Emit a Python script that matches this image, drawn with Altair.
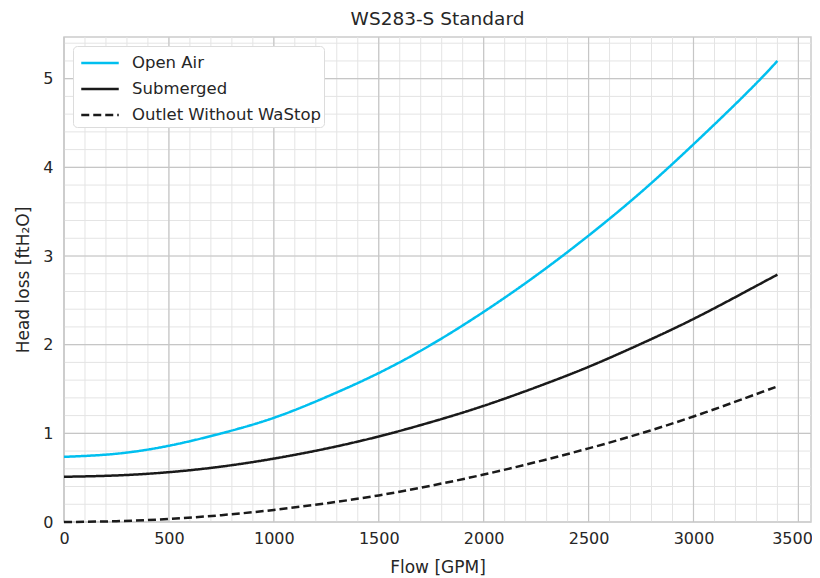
import altair as alt
import pandas as pd

# ---- data ----
series_names = ["Open Air", "Submerged", "Outlet Without WaStop"]
flow = [0, 250, 500, 750, 1000, 1250, 1500, 1750, 2000, 2250, 2500, 2750, 3000, 3250, 3400]
open_air = [0.735, 0.77, 0.86, 1.0, 1.175, 1.41, 1.68, 2.0, 2.37, 2.78, 3.23, 3.72, 4.26, 4.83, 5.2]
submerged = [0.51, 0.525, 0.562, 0.625, 0.715, 0.828, 0.965, 1.127, 1.31, 1.52, 1.75, 2.01, 2.29, 2.6, 2.79]
outlet = [0.0, 0.009, 0.034, 0.077, 0.136, 0.211, 0.30, 0.41, 0.535, 0.676, 0.83, 1.0, 1.19, 1.4, 1.53]

x_major = [0, 500, 1000, 1500, 2000, 2500, 3000, 3500]
x_minor = list(range(100, 3600, 100))
y_major = [0, 1, 2, 3, 4, 5]
y_minor = [round(0.2 * i, 1) for i in range(0, 28)]

rows = []
for name, vals in zip(series_names, [open_air, submerged, outlet]):
    for f, v in zip(flow, vals):
        rows.append({"series": name, "flow": f, "head": v})
df = pd.DataFrame(rows)

FONT = "DejaVu Sans"
TXT = "#262626"

xscale = alt.Scale(domain=[0, 3560], nice=False, zero=False)
yscale = alt.Scale(domain=[0, 5.47], nice=False, zero=False)

xaxis = alt.Axis(values=x_major, title="Flow [GPM]", grid=False, ticks=False,
                 domain=False, labelPadding=8, titlePadding=13, format="d",
                 labelFlush=False, labelOverlap=False,
                 labelAlign={"condition": {"test": "datum.value >= 3500", "value": "right"}, "value": "center"},
                 labelOffset={"condition": {"test": "datum.value >= 3500", "value": 14}, "value": 0})
yaxis = alt.Axis(values=y_major, title="Head loss [ftH₂O]", grid=False, ticks=False,
                 domain=False, labelPadding=11, titlePadding=10, format="d",
                 labelFlush=False, labelOverlap=False)

minor_v = alt.Chart(pd.DataFrame({"v": x_minor})).mark_rule(color="#e4e4e4", strokeWidth=1).encode(
    x=alt.X("v:Q", scale=xscale, axis=xaxis))
minor_h = alt.Chart(pd.DataFrame({"v": y_minor})).mark_rule(color="#e4e4e4", strokeWidth=1).encode(
    y=alt.Y("v:Q", scale=yscale, axis=yaxis))
major_v = alt.Chart(pd.DataFrame({"v": x_major})).mark_rule(color="#c6c6c6", strokeWidth=1.2).encode(
    x=alt.X("v:Q", scale=xscale, axis=xaxis))
major_h = alt.Chart(pd.DataFrame({"v": y_major})).mark_rule(color="#c6c6c6", strokeWidth=1.2).encode(
    y=alt.Y("v:Q", scale=yscale, axis=yaxis))

legend = alt.Legend(
    title=None, orient="top-left", offset=9, padding=3,
    fillColor="white", strokeColor="#dcdcdc", cornerRadius=4,
    symbolType="M-1.5,0H1.5", symbolSize=625, symbolStrokeWidth=2.5,
    symbolOffset=10, labelOffset=18, labelFontSize=16.5, labelFont=FONT,
    labelColor=TXT, rowPadding=3, labelLimit=400,
)

lines = alt.Chart(df).mark_line(strokeWidth=2.5, interpolate="natural").encode(
    x=alt.X("flow:Q", scale=xscale, axis=xaxis),
    y=alt.Y("head:Q", scale=yscale, axis=yaxis),
    color=alt.Color("series:N", sort=series_names,
                    scale=alt.Scale(domain=series_names, range=["#00BFEF", "#1a1a1a", "#1a1a1a"]),
                    legend=legend),
    strokeDash=alt.StrokeDash("series:N", sort=series_names,
                              scale=alt.Scale(domain=series_names, range=[[1, 0], [1, 0], [8, 4]]),
                              legend=legend),
    order=alt.Order("flow:Q"),
)

chart = alt.layer(minor_v, minor_h, major_v, major_h, lines).properties(
    width=747, height=485,
    title=alt.TitleParams("WS283-S Standard", font=FONT, fontSize=18.5, fontWeight="normal",
                          color=TXT, offset=8),
    autosize=alt.AutoSizeParams(type="none"),
    padding={"left": 56, "top": 29, "right": 1, "bottom": 58},
).configure_view(stroke="#cccccc", strokeWidth=1.5).configure_axis(
    labelFont=FONT, titleFont=FONT, labelFontSize=16, titleFontSize=17,
    labelColor=TXT, titleColor=TXT, titleFontWeight="normal",
)

chart.save("out.html", embed_options={"renderer": "svg", "actions": False})
